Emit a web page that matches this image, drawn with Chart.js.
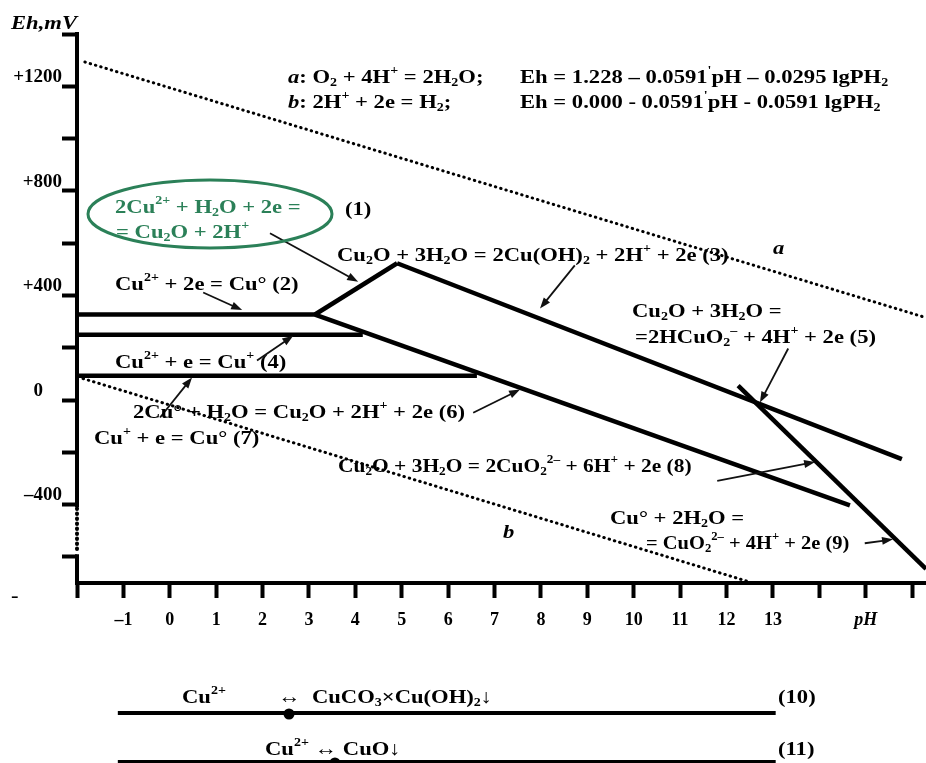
<!DOCTYPE html>
<html>
<head>
<meta charset="utf-8">
<script src="https://cdn.jsdelivr.net/npm/chart.js@4.4.1/dist/chart.umd.min.js"></script>
<style>
  html, body { margin: 0; padding: 0; background: #fff; }
  #wrap { width: 926px; height: 763px; }
</style>
</head>
<body>
<div id="wrap"><canvas id="chart" width="926" height="763"></canvas></div>
<script>
// axis ticks
const phTicks = [-2, -1, 0, 1, 2, 3, 4, 5, 6, 7, 8, 9, 10, 11, 12, 13, 14, 15, 16];
const phLabels = { "-1": "–1", 0: "0", 1: "1", 2: "2", 3: "3", 4: "4", 5: "5", 6: "6", 7: "7",
  8: "8", 9: "9", 10: "10", 11: "11", 12: "12", 13: "13", 15: "pH" };
const ehTicks = [-600, -400, -200, 0, 200, 400, 600, 800, 1000, 1200, 1400];
const ehLabels = { 1200: "+1200", 800: "+800", 400: "+400", 0: "0    ", "-400": "–400" };

// boundary lines: pH and Eh (mV)
const r2pH = [-2, 3.13],     r2Eh = [327, 327];      // Cu2+ / Cu
const r1pH = [3.13, 4.9],    r1Eh = [327, 523];      // Cu2+ / Cu2O
const r3pH = [4.9, 15.78],   r3Eh = [523, -226];     // Cu2O / Cu(OH)2
const r6pH = [3.13, 14.66],  r6Eh = [327, -403];     // Cu / Cu2O
const r4pH = [-2, 4.16],     r4Eh = [250, 250];      // Cu2+ / Cu+
const r7pH = [-2, 6.62],     r7Eh = [93, 93];        // Cu+ / Cu
const r9pH = [12.25, 16.3],  r9Eh = [55, -646];      // Cu / CuO2 2-
const aPH = [-1.83, 16.3],   aEh = [1293, 315];      // water line a
const bPH = [-1.87, 12.57],  bEh = [82, -700];       // water line b

// arrows from label to line: [pH0, Eh0, pH1, Eh1]
const arrows = [
  [2.16, 638, 4.06, 452],
  [0.72, 411, 1.56, 344],
  [8.73, 515, 7.98, 350],
  [1.88, 151, 2.66, 246],
  [13.33, 197, 12.72, -10],
  [6.54, -49, 7.55, 40],
  [-0.21, -67, 0.48, 86],
  [11.8, -309, 13.91, -237],
  [14.98, -548, 15.59, -533]
];

// precipitation ranges below the chart (10), (11)
const rxnSpan = [-1.12, 13.06];
const rxnPoints = [2.57, 3.56];

const GREEN = "#2b8058";
const FONT = '"Liberation Serif", "Times New Roman", serif';
const TEXT_SIZE = 19.5;
const TEXT_SX = 1.16;

// text notes: markup ^{sup} _{sub} *italic*
const notes = [
  ["*a*: O_{2} + 4H^{+} = 2H_{2}O;", 288, 78],
  ["Eh = 1.228 – 0.0591^{'}pH – 0.0295 lgPH_{2}", 520, 78],
  ["*b*: 2H^{+} + 2e = H_{2};", 288, 103],
  ["Eh = 0.000 - 0.0591^{'}pH - 0.0591 lgPH_{2}", 520, 103],
  ["2Cu^{2+} + H_{2}O + 2e =", 115, 208, GREEN],
  ["= Cu_{2}O + 2H^{+}", 116, 233, GREEN],
  ["(1)", 345, 210],
  ["Cu_{2}O + 3H_{2}O = 2Cu(OH)_{2} + 2H^{+} + 2e (3)", 337, 256],
  ["*a*", 773, 249],
  ["Cu^{2+} + 2e = Cu° (2)", 115, 285],
  ["Cu_{2}O + 3H_{2}O =", 632, 312],
  ["=2HCuO_{2}^{–} + 4H^{+} + 2e (5)", 635, 338],
  ["Cu^{2+} + e = Cu^{+} (4)", 115, 363],
  ["2Cu° + H_{2}O = Cu_{2}O + 2H^{+} + 2e (6)", 133, 413],
  ["Cu^{+} + e = Cu° (7)", 94, 439],
  ["Cu_{2}O + 3H_{2}O = 2CuO_{2}^{2–} + 6H^{+} + 2e (8)", 338, 467, null, 1.1],
  ["*b*", 503, 533],
  ["Cu° + 2H_{2}O =", 610, 519],
  ["= CuO_{2}^{2–} + 4H^{+} + 2e (9)", 646, 544, null, 1.05],
  ["Cu^{2+}", 182, 698],
  ["↔  CuCO_{3}×Cu(OH)_{2}↓", 278, 698],
  ["(10)", 778, 698],
  ["Cu^{2+} ↔ CuO↓", 265, 750],
  ["(11)", 778, 750],
  ["*Eh,mV*", 11, 24],
  ["-", 11, 597]
];

function pts(xs, ys) {
  return xs.map((x, i) => ({ x: x, y: ys[i] }));
}

function solid(xs, ys) {
  return { data: pts(xs, ys), borderColor: "#000", borderWidth: 4.5, pointRadius: 0,
    borderCapStyle: "butt", tension: 0 };
}
function dotted(xs, ys) {
  return { data: pts(xs, ys), borderColor: "#000", borderWidth: 3, pointRadius: 0,
    borderDash: [0.5, 5], borderCapStyle: "round", tension: 0 };
}

function drawRich(ctx, str, x, y, color, sx) {
  const parts = str.split(/(\^\{[^}]*\}|_\{[^}]*\}|\*[^*]*\*)/).filter(s => s.length);
  ctx.save();
  ctx.translate(x, y);
  ctx.scale(sx || TEXT_SX, 1);
  ctx.fillStyle = color || "#000";
  ctx.textBaseline = "middle";
  ctx.textAlign = "left";
  let cx = 0;
  parts.forEach(p => {
    let txt = p, size = TEXT_SIZE, dy = 0, style = "";
    if (p[0] === "^") { txt = p.slice(2, -1); size = TEXT_SIZE * 0.62; dy = -TEXT_SIZE * 0.36; }
    else if (p[0] === "_") { txt = p.slice(2, -1); size = TEXT_SIZE * 0.62; dy = TEXT_SIZE * 0.24; }
    else if (p[0] === "*") { txt = p.slice(1, -1); style = "italic "; }
    ctx.font = style + "bold " + size + "px " + FONT;
    ctx.fillText(txt, cx, dy);
    cx += ctx.measureText(txt).width;
  });
  ctx.restore();
}

const decor = {
  id: "decor",
  afterDatasetsDraw(chart) {
    const ctx = chart.ctx;
    const xs = chart.scales.x, ys = chart.scales.y;
    const area = chart.chartArea;

    // y axis with a dotted break
    const ax = area.left;
    ctx.save();
    ctx.strokeStyle = "#000";
    ctx.lineWidth = 4;
    ctx.beginPath();
    ctx.moveTo(ax, ys.getPixelForValue(1400) - 2);
    ctx.lineTo(ax, ys.getPixelForValue(-410));
    ctx.moveTo(ax, ys.getPixelForValue(-590));
    ctx.lineTo(ax, area.bottom);
    ctx.stroke();
    ctx.setLineDash([0.5, 4.5]);
    ctx.lineCap = "round";
    ctx.beginPath();
    ctx.moveTo(ax, ys.getPixelForValue(-415));
    ctx.lineTo(ax, ys.getPixelForValue(-585));
    ctx.stroke();
    ctx.restore();

    // arrows
    ctx.save();
    ctx.strokeStyle = "#111";
    ctx.fillStyle = "#111";
    ctx.lineWidth = 1.8;
    arrows.forEach(a => {
      const x0 = xs.getPixelForValue(a[0]), y0 = ys.getPixelForValue(a[1]);
      const x1 = xs.getPixelForValue(a[2]), y1 = ys.getPixelForValue(a[3]);
      const ang = Math.atan2(y1 - y0, x1 - x0);
      const hl = 11, hw = 4;
      ctx.beginPath();
      ctx.moveTo(x0, y0);
      ctx.lineTo(x1 - Math.cos(ang) * hl * 0.8, y1 - Math.sin(ang) * hl * 0.8);
      ctx.stroke();
      ctx.beginPath();
      ctx.moveTo(x1, y1);
      ctx.lineTo(x1 - Math.cos(ang) * hl - Math.sin(ang) * hw, y1 - Math.sin(ang) * hl + Math.cos(ang) * hw);
      ctx.lineTo(x1 - Math.cos(ang) * hl + Math.sin(ang) * hw, y1 - Math.sin(ang) * hl - Math.cos(ang) * hw);
      ctx.closePath();
      ctx.fill();
    });
    ctx.restore();

    // green ellipse round reaction (1)
    ctx.save();
    ctx.strokeStyle = GREEN;
    ctx.lineWidth = 3;
    ctx.beginPath();
    ctx.ellipse(210, 214, 122, 34, 0, 0, Math.PI * 2);
    ctx.stroke();
    ctx.restore();

    // precipitation lines (10), (11)
    ctx.save();
    ctx.strokeStyle = "#000";
    ctx.fillStyle = "#000";
    ctx.lineWidth = 4;
    [713, 762].forEach((py, i) => {
      ctx.beginPath();
      ctx.moveTo(xs.getPixelForValue(rxnSpan[0]), py);
      ctx.lineTo(xs.getPixelForValue(rxnSpan[1]), py);
      ctx.stroke();
      ctx.beginPath();
      ctx.arc(xs.getPixelForValue(rxnPoints[i]), py + 1, 5.5, 0, Math.PI * 2);
      ctx.fill();
    });
    ctx.restore();

    notes.forEach(n => drawRich(ctx, n[0], n[1], n[2], n[3], n[4]));
  }
};

new Chart(document.getElementById("chart"), {
  type: "line",
  data: {
    datasets: [
      solid(r2pH, r2Eh), solid(r1pH, r1Eh), solid(r3pH, r3Eh), solid(r6pH, r6Eh),
      solid(r4pH, r4Eh), solid(r7pH, r7Eh), solid(r9pH, r9Eh),
      dotted(aPH, aEh), dotted(bPH, bEh)
    ]
  },
  options: {
    responsive: false,
    animation: false,
    devicePixelRatio: 1,
    layout: { padding: { top: 34, right: 0, bottom: 0, left: 0 } },
    plugins: { legend: { display: false }, tooltip: { enabled: false } },
    scales: {
      x: {
        type: "linear",
        min: -2,
        max: 16.3,
        afterBuildTicks: s => { s.ticks = phTicks.map(v => ({ value: v })); },
        afterFit: s => { s.height = 180; },
        border: { display: true, color: "#000", width: 4 },
        grid: { drawOnChartArea: false, drawTicks: true, tickLength: 15, tickWidth: 4, tickColor: "#000" },
        ticks: {
          autoSkip: false,
          maxRotation: 0,
          padding: 12,
          color: "#000",
          callback: v => phLabels[v] || "",
          font: c => ({ family: FONT, size: 18, weight: "bold",
            style: c.tick && c.tick.value === 15 ? "italic" : "normal" })
        }
      },
      y: {
        type: "linear",
        min: -700,
        max: 1400,
        afterBuildTicks: s => { s.ticks = ehTicks.map(v => ({ value: v })); },
        afterFit: s => { s.width = 77; },
        border: { display: false },
        grid: { drawOnChartArea: false, drawTicks: true, tickLength: 15, tickWidth: 4, tickColor: "#000" },
        ticks: {
          padding: 0,
          labelOffset: -9,
          color: "#000",
          callback: v => ehLabels[v] || "",
          font: { family: FONT, size: 19, weight: "bold" }
        }
      }
    }
  },
  plugins: [decor]
});
</script>
</body>
</html>
